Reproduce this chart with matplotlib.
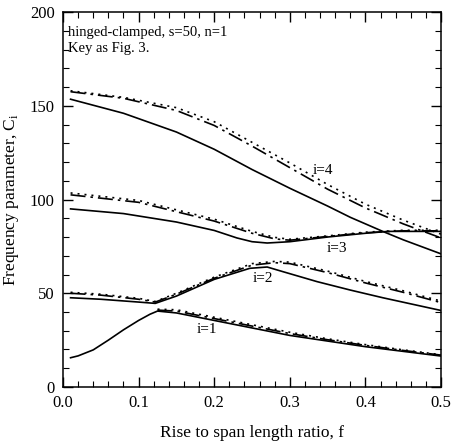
import matplotlib
matplotlib.use("Agg")
import matplotlib.pyplot as plt
from matplotlib.ticker import MultipleLocator

plt.rcParams["font.family"] = ["Liberation Serif", "DejaVu Serif"]

# mode i=1
f1 = [0.01, 0.02, 0.04, 0.06, 0.08, 0.10, 0.115, 0.125, 0.15, 0.20, 0.25, 0.30, 0.35, 0.40, 0.45, 0.50]
c1_solid = [15.6, 16.6, 19.8, 25.0, 30.5, 35.5, 38.8, 40.5, 39.5, 35.5, 31.5, 27.5, 24.5, 21.5, 19.0, 16.5]
f1b = [0.125, 0.15, 0.20, 0.25, 0.30, 0.35, 0.40, 0.45, 0.50]
c1_chain = [41.0, 40.5, 36.5, 32.5, 28.5, 25.2, 22.2, 19.5, 17.0]
c1_dot = [41.5, 41.2, 37.2, 33.2, 29.2, 25.7, 22.6, 19.8, 17.2]

# mode i=2
f2 = [0.01, 0.05, 0.10, 0.122, 0.15, 0.20, 0.247, 0.27, 0.291, 0.336, 0.38, 0.423, 0.50]
c2_solid = [47.6, 46.8, 45.3, 44.6, 48.5, 57.4, 63.3, 64.0, 61.5, 56.2, 51.7, 47.6, 40.8]
f2b = [0.01, 0.05, 0.10, 0.122, 0.15, 0.20, 0.25, 0.28, 0.30, 0.35, 0.40, 0.45, 0.50]
c2_chain = [50.0, 49.0, 46.8, 45.3, 49.5, 58.0, 65.0, 66.3, 65.8, 61.0, 55.5, 50.5, 45.0]
c2_dot = [50.5, 49.5, 47.3, 45.6, 50.0, 58.6, 65.8, 67.0, 66.6, 61.8, 56.3, 51.3, 45.8]

# mode i=3
f3 = [0.01, 0.08, 0.15, 0.20, 0.23, 0.25, 0.27, 0.30, 0.35, 0.40, 0.43, 0.50]
c3_solid = [95.0, 92.5, 88.0, 83.5, 79.5, 77.5, 76.8, 77.5, 80.0, 82.0, 83.0, 83.0]
f3b = [0.01, 0.10, 0.20, 0.25, 0.28, 0.30, 0.35, 0.40, 0.45, 0.50]
c3_chain = [102.5, 98.5, 88.5, 82.0, 79.0, 78.3, 80.3, 82.3, 83.3, 83.3]
c3_dot = [103.5, 99.5, 89.5, 83.0, 79.8, 78.8, 80.6, 82.6, 83.6, 83.6]

# mode i=4
f4 = [0.01, 0.08, 0.15, 0.20, 0.25, 0.30, 0.35, 0.38, 0.40, 0.424, 0.45, 0.50]
c4_solid = [153.5, 146.0, 136.0, 126.8, 116.0, 106.0, 96.5, 90.5, 87.0, 82.8, 78.5, 71.0]
f4b = [0.01, 0.08, 0.15, 0.20, 0.25, 0.30, 0.35, 0.40, 0.45, 0.50]
c4_chain = [157.5, 154.0, 147.5, 139.5, 128.5, 117.0, 105.5, 95.5, 87.0, 79.5]
c4_dot = [158.0, 154.5, 149.0, 141.5, 130.5, 119.5, 108.0, 97.5, 89.0, 81.5]

mode_labels = ["i=1", "i=2", "i=3", "i=4"]
label_pos = [(0.19, 30.9), (0.265, 58.0), (0.362, 74.0), (0.344, 115.7)]

xticks = [0.0, 0.1, 0.2, 0.3, 0.4, 0.5]
xtick_labels = ["0.0", "0.1", "0.2", "0.3", "0.4", "0.5"]
yticks = [0, 50, 100, 150, 200]

fig = plt.figure(figsize=(4.51, 4.46), dpi=100)
ax = fig.add_axes([0.1397, 0.1323, 0.8383, 0.8407])

lw = 1.2
chain = (0, (9, 3, 1.5, 3))
dots = (0, (1.2, 3))
for fs, cs, fb, cc, cd in [
    (f1, c1_solid, f1b, c1_chain, c1_dot),
    (f2, c2_solid, f2b, c2_chain, c2_dot),
    (f3, c3_solid, f3b, c3_chain, c3_dot),
    (f4, c4_solid, f4b, c4_chain, c4_dot),
]:
    ax.plot(fs, cs, color="black", lw=lw, ls="-")
    ax.plot(fb, cc, color="black", lw=lw, ls=chain)
    ax.plot(fb, cd, color="black", lw=lw, ls=dots)

for txt, (x, y) in zip(mode_labels, label_pos):
    ax.text(x, y, txt, fontsize=11, ha="center", va="center")

ax.text(0.013, 0.945, "hinged-clamped, s=50, n=1", transform=ax.transAxes,
        fontsize=10.5, va="center")
ax.text(0.013, 0.902, "Key as Fig. 3.", transform=ax.transAxes,
        fontsize=10.5, va="center")

ax.set_xlim(0, 0.5)
ax.set_ylim(0, 200)
ax.set_xticks(xticks)
ax.set_xticklabels(xtick_labels)
ax.set_yticks(yticks)
ax.xaxis.set_minor_locator(MultipleLocator(0.02))
ax.yaxis.set_minor_locator(MultipleLocator(10))
ax.tick_params(which="both", direction="in", top=True, right=True, labelsize=12)
ax.tick_params(which="major", length=7, width=1)
ax.tick_params(which="minor", length=4, width=0.8)
ax.tick_params(axis="x", pad=6)
ax.tick_params(axis="y", pad=6)
for sp in ax.spines.values():
    sp.set_linewidth(1.1)

ax.set_xlabel("Rise to span length ratio, f", fontsize=12.5, labelpad=10)
ax.set_ylabel("Frequency parameter, C$_\\mathregular{i}$", fontsize=12.5, labelpad=6)

fig.savefig("out.png", dpi=100)
